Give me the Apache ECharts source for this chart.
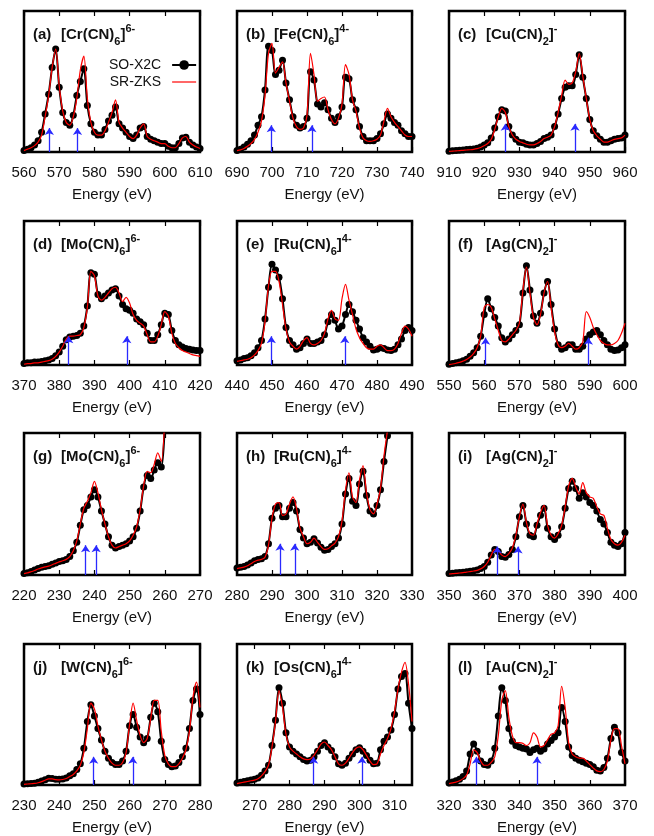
<!DOCTYPE html>
<html>
<head>
<meta charset="utf-8">
<title>X-ray absorption spectra</title>
<script src="https://cdn.jsdelivr.net/npm/echarts@6/dist/echarts.min.js"></script>
<style>
  html, body { margin: 0; padding: 0; background: #fff; }
  #chart { width: 654px; height: 836px; }
</style>
</head>
<body>
<div id="chart"></div>
<script>
// energies (eV) and intensities (% of panel height)
const aE = [560,561,562,563,564,565,566,567,568,569,570,571,572,573,574,575,576,577,578,579,580,581,582,583,584,585,586,587,588,589,590,591,592,593,594,595,596,597,598,599,600,601,602,603,604,605,606,607,608,609,610]
const aX2C = [1,2,3,5,8,14,27,41,60,73,46,28,21,19,26,40,50,59,33,20,14,12,12,16,22,26,32,20,17,14,11,9.5,12,17,18,11,9,8,7,6,6,4,3,3,6,10,10.5,7,5,3.5,2.5]
const aZKS = [1,2,3,4.5,7,12,25,40,60,73,47,29,21,19,25,38,58,68,38,21,14,12,12,15,21,28,37,21,17,14,11,9.5,12,17,20,11,9,8,7,6,6,4,3,3,6,10,11,7,5,3.5,2.5]
const aArrows = [567.2, 575.2]
const aTicks = [560, 570, 580, 590, 600, 610]

const bE = [690,691,692,693,694,695,696,697,698,699,700,701,702,703,704,705,706,707,708,709,710,711,712,713,714,715,716,717,718,719,720,721,722,723,724,725,726,727,728,729,730,731,732,733,734,735,736,737,738,739,740]
const bX2C = [1,2,3.5,5.5,8,12,19,25,44,75,72,55,58,65,49,37,25,19,17,18,24,57,51,34,32,35,30,24,21,25,32,53,52,37,30,18,11,8,8,8,9.5,13,20,27,24,21,19,15,13,11,11]
const bZKS = [1,1.5,2.5,4,6,9,14,22,40,70,77,56,60,64,49,36,24,18,16,17,26,70,55,36,38,39,30,23,20,24,34,62,55,37,29,17,10,8,7.5,8,9,12,22,31,25,21,18,15,12,11,11]
const bArrows = [699.8, 711.4]
const bTicks = [690, 700, 710, 720, 730, 740]

const cE = [910,911,912,913,914,915,916,917,918,919,920,921,922,923,924,925,926,927,928,929,930,931,932,933,934,935,936,937,938,939,940,941,942,943,944,945,946,947,948,949,950,951,952,953,954,955,956,957,958,959,960]
const cX2C = [0.5,0.8,1,1.2,1.5,1.7,2,2.2,2.7,3.5,5,6.5,10,17,25,30,29,18,12,9,7,6.5,5.5,5,5,6,7.5,9.5,10.5,12,18,27,38,46,47,47,55,69,53,38,23,15,11.5,9,7,7,8,9,9.5,10,12]
const cZKS = [0.4,0.6,0.8,1,1.2,1.4,1.6,1.9,2.4,3.2,4.5,6,9,16,25,31,28,18,12,9,7.5,6.5,5.5,5,5,6,7.5,9.5,10.5,12,18,28,40,51,48,49,57,70,54,38,23,15,11.5,9,7,7,8,9,9.5,10,12]
const cArrows = [926, 945.8]
const cTicks = [910, 920, 930, 940, 950, 960]

const dE = [370,371,372,373,374,375,376,377,378,379,380,381,382,383,384,385,386,387,388,389,390,391,392,393,394,395,396,397,398,399,400,401,402,403,404,405,406,407,408,409,410,411,412,413,414,415,416,417,418,419,420]
const dX2C = [1,1.5,1.5,2,2,2.5,3,3.5,4.5,6.5,9,13,17.5,19.5,20,20.5,22,27,41,64,63,49,46,48,50,52,53,48,42,39,38,36,32,30,28,22,17,17,21,28,36,35,24,17,14,12.5,11.5,11,10.5,10,10]
const dZKS = [0.5,1,1,1.5,1.5,2,2.5,3,4,6,9,13,18,20,20,20.5,21,26,40,65,62,48,45,47,50,53,54,50,44,47,43,35,31,29,27,21,16,16,20,28,37,34,22,15,12,10,9,8,7,6.5,6]
const dArrows = [382.7, 399.2]
const dTicks = [370, 380, 390, 400, 410, 420]

const eE = [440,441,442,443,444,445,446,447,448,449,450,451,452,453,454,455,456,457,458,459,460,461,462,463,464,465,466,467,468,469,470,471,472,473,474,475,476,477,478,479,480,481,482,483,484,485,486,487,488,489,490]
const eX2C = [3,3.5,4.5,5,6.5,8.5,12,17,32,54,70,66,61,46,26,17,14,11,12,15,18,15,15,16,17,21,30,35,31,25,27,35,42,37,31,25,19,16,13,10.5,11,12,11.5,10.5,10,11,14,18,24,26,24]
const eZKS = [2.5,3,3.5,4,5,7,10,15,30,55,65,65,58,42,25,16,13,11,13,17,19,15,14,15,17,22,32,38,32,31,46,56,45,35,25,19,15,12,11,11,13,14,12,10,10,11,15,22,27,25,20]
const eArrows = [449.8, 470.8]
const eTicks = [440, 450, 460, 470, 480, 490]

const fE = [550,551,552,553,554,555,556,557,558,559,560,561,562,563,564,565,566,567,568,569,570,571,572,573,574,575,576,577,578,579,580,581,582,583,584,585,586,587,588,589,590,591,592,593,594,595,596,597,598,599,600]
const fX2C = [0.5,1,1.5,2,3,4,6,8.5,12,20,35,46,39,33,27,19,16,18,21,24,28,50,69,52,34,29,36,50,58,42,25,14,11,12,14,14,11,11,13,18,21,23,24,21,17,14,11,10,10.5,12,14]
const fZKS = [0.3,0.7,1.2,1.8,2.7,3.8,5.5,8,12,20,40,42,40,32,24,17,16,18,21,24,29,52,68,50,33,28,35,50,58,40,23,14,12,13,15,13,11,12,16,37,33,26,21,17,15,14,14,15,17,22,29]
const fArrows = [560.4, 589.6]
const fTicks = [550, 560, 570, 580, 590, 600]

const gE = [220,221,222,223,224,225,226,227,228,229,230,231,232,233,234,235,236,237,238,239,240,241,242,243,244,245,246,247,248,249,250,251,252,253,254,255,256,257,258,259,260]
const gX2C = [1,1.5,2.5,3.5,4.5,5.5,6,6.5,7.5,8.5,9.5,10,11,13,17,23,35,46,49,55,60,55,45,36,27,21,19,20,21,22,24,27,33,45,62,70,68,74,79,76,106]
const gZKS = [1,1.5,2.3,3.2,4.2,5,5.7,6.3,7.2,8.2,9.2,10,11,13,17,24,36,47,52,58,66,58,46,36,27,21,19,20,21,22,24,28,34,46,63,73,72,78,86,80,112]
const gArrows = [237.5, 240.5]
const gTicks = [220, 230, 240, 250, 260, 270]

const hE = [280,281,282,283,284,285,286,287,288,289,290,291,292,293,294,295,296,297,298,299,300,301,302,303,304,305,306,307,308,309,310,311,312,313,314,315,316,317,318,319,320,321,322,323,324]
const hX2C = [5,5.5,6,7,8.5,10,11,11.5,13,22,40,47,49,41,41,47,51,45,32,26,22,23,25.5,22.5,19.5,17.5,18,20,22,26,36,57,68,52,49,64,73,56,45,43,49,60,80,98,115]
const hZKS = [4.5,5,5.5,6.5,8,9.5,10.5,11,12.5,21,40,50,51,42,43,50,55,47,33,27,22,23,26,23,20,18,18.5,20.5,22.5,27,38,60,72,55,51,67,77,58,46,43,50,61,84,102,120]
const hArrows = [292.3, 296.5]
const hTicks = [280, 290, 300, 310, 320, 330]

const iE = [350,351,352,353,354,355,356,357,358,359,360,361,362,363,364,365,366,367,368,369,370,371,372,373,374,375,376,377,378,379,380,381,382,383,384,385,386,387,388,389,390,391,392,393,394,395,396,397,398,399,400]
const iX2C = [1,1.2,1.5,1.8,2,2.3,2.7,3,3.5,4.5,6,9,14,18,16.5,13,12.5,14.5,18,27,41,49,36,28,27,35,42,47,33,27,25,28,34,47,61,66,61,54,58,55,51,49,45,39,36,30,23,21,20,22,30]
const iZKS = [0.7,0.9,1.1,1.4,1.7,2,2.4,2.8,3.3,4.3,6,9,14,18,17,14,13,15,19,28,41,50,37,29,28,36,44,49,35,28,26,29,35,48,63,68,62,57,65,58,55,54,48,43,42,33,25,22,21,23,28]
const iArrows = [363.7, 369.6]
const iTicks = [350, 360, 370, 380, 390, 400]

const jE = [230,231,232,233,234,235,236,237,238,239,240,241,242,243,244,245,246,247,248,249,250,251,252,253,254,255,256,257,258,259,260,261,262,263,264,265,266,267,268,269,270,271,272,273,274,275,276,277,278,279,280]
const jX2C = [0.7,0.9,1.1,1.3,2,2.8,3.8,4.7,4.6,4.1,4,4.2,5,6.5,8,11,15,26,45,57,49,40,32,24,19,16,14.5,14.5,17,24,42,50,41,34,30,33,48,58,52,31,18,14.5,13,13.5,16,20,26,40,60,68,50]
const jZKS = [0.5,0.7,0.9,1.1,1.6,2.4,3.4,4.3,4.3,3.8,3.6,3.9,4.6,6,7.5,10,14,23,40,58,54,42,32,24,19,15.5,14,14,16,23,43,58,46,35,30,33,47,60,60,38,21,15,13,13,15,19,25,38,62,73,55]
const jArrows = [249.8, 260.9]
const jTicks = [230, 240, 250, 260, 270, 280]

const kE = [265,266,267,268,269,270,271,272,273,274,275,276,277,278,279,280,281,282,283,284,285,286,287,288,289,290,291,292,293,294,295,296,297,298,299,300,301,302,303,304,305,306,307,308,309,310,311,312,313,314,315]
const kX2C = [1.5,2,2.5,3,3.5,4,5,7,10,14,28,46,69,58,37,27,24,22,20,18,17,17.5,20,24,28,30,27,24.5,20,15,14,15.5,19,22,25,26.5,24,21,17.5,15,15.5,25,31,34,39,50,68,77,79,58,40]
const kZKS = [1,1.5,2,2.5,3,3.5,4.5,6.5,9.5,14,27,45,67,55,36,27,24,22,20,18.5,18,18.5,21,25,29,30.5,28,25,20,15,14,15.5,19,23,26,27,25,21,17,14.5,15,22,28,33,40,52,68,80,87,72,45]
const kArrows = [286.9, 300.7]
const kTicks = [270, 280, 290, 300, 310]

const lE = [320,321,322,323,324,325,326,327,328,329,330,331,332,333,334,335,336,337,338,339,340,341,342,343,344,345,346,347,348,349,350,351,352,353,354,355,356,357,358,359,360,361,362,363,364,365,366,367,368,369,370]
const lX2C = [1.5,2.2,3,4,6,10,22,29,24,17,14.5,14,17,26,49,69,60,40,31,28,27,26,25.5,23,25,26,24,25.5,29,31.5,34,37,55,45,27,21,19,17.5,16.5,15.5,14.5,13,10.5,10,12.5,19,33,41,37,23,17]
const lZKS = [1,1.5,2,3,4.5,7,15,25,23,17,14,14,16,20,35,60,67,48,35,30,30,29.5,28,30,37,34,27,28,32,36,37,42,70,55,30,22,20,19,19,17,14.5,12,10,9.5,11,17,32,40,40,28,15]
const lArrows = [327.8, 345]
const lTicks = [320, 330, 340, 350, 360, 370]

const FONT = '"Liberation Sans", Arial, Helvetica, sans-serif'

const panels = [
  { label: '(a)', metal: 'Cr', n: '6', charge: '6-', range: [560, 610], ticks: aTicks, e: aE, x2c: aX2C, zks: aZKS, arrows: aArrows, arrowTop: 17 },
  { label: '(b)', metal: 'Fe', n: '6', charge: '4-', range: [690, 740], ticks: bTicks, e: bE, x2c: bX2C, zks: bZKS, arrows: bArrows, arrowTop: 19 },
  { label: '(c)', metal: 'Cu', n: '2', charge: '-', range: [910, 960], ticks: cTicks, e: cE, x2c: cX2C, zks: cZKS, arrows: cArrows, arrowTop: 20 },
  { label: '(d)', metal: 'Mo', n: '6', charge: '6-', range: [370, 420], ticks: dTicks, e: dE, x2c: dX2C, zks: dZKS, arrows: dArrows, arrowTop: 20 },
  { label: '(e)', metal: 'Ru', n: '6', charge: '4-', range: [440, 490], ticks: eTicks, e: eE, x2c: eX2C, zks: eZKS, arrows: eArrows, arrowTop: 20 },
  { label: '(f)', metal: 'Ag', n: '2', charge: '-', range: [550, 600], ticks: fTicks, e: fE, x2c: fX2C, zks: fZKS, arrows: fArrows, arrowTop: 19 },
  { label: '(g)', metal: 'Mo', n: '6', charge: '6-', range: [220, 270], ticks: gTicks, e: gE, x2c: gX2C, zks: gZKS, arrows: gArrows, arrowTop: 21 },
  { label: '(h)', metal: 'Ru', n: '6', charge: '4-', range: [280, 330], ticks: hTicks, e: hE, x2c: hX2C, zks: hZKS, arrows: hArrows, arrowTop: 22 },
  { label: '(i)', metal: 'Ag', n: '2', charge: '-', range: [350, 400], ticks: iTicks, e: iE, x2c: iX2C, zks: iZKS, arrows: iArrows, arrowTop: 20 },
  { label: '(j)', metal: 'W', n: '6', charge: '6-', range: [230, 280], ticks: jTicks, e: jE, x2c: jX2C, zks: jZKS, arrows: jArrows, arrowTop: 20 },
  { label: '(k)', metal: 'Os', n: '6', charge: '4-', range: [265, 315], ticks: kTicks, e: kE, x2c: kX2C, zks: kZKS, arrows: kArrows, arrowTop: 20 },
  { label: '(l)', metal: 'Au', n: '2', charge: '-', range: [320, 370], ticks: lTicks, e: lE, x2c: lX2C, zks: lZKS, arrows: lArrows, arrowTop: 20 },
]

// panel boxes in pixels
const colLeft = [24, 237, 449]
const colWidth = [176, 175, 176]
const rowTop = [11, 221, 433, 644]
const rowHeight = [141, 144, 142, 143]

const chart = echarts.init(document.getElementById('chart'), null, { renderer: 'canvas' })

const grids = []
const xAxes = []
const yAxes = []
const titles = []
const series = []

panels.forEach((p, i) => {
  const row = Math.floor(i / 3)
  const col = i % 3
  const left = colLeft[col]
  const top = rowTop[row]

  grids.push({
    left: left,
    top: top,
    width: colWidth[col],
    height: rowHeight[row],
    show: true,
    borderColor: '#000',
    borderWidth: 2.5,
    backgroundColor: 'transparent',
  })

  // bottom axis with labels
  xAxes.push({
    type: 'value',
    gridIndex: i,
    position: 'bottom',
    min: p.range[0],
    max: p.range[1],
    axisLine: { show: false },
    axisTick: {
      inside: true,
      length: 5,
      customValues: p.ticks,
      lineStyle: { color: '#000', width: 1.2 },
    },
    axisLabel: {
      customValues: p.ticks,
      fontSize: 15,
      color: '#111',
      fontFamily: FONT,
      margin: 13,
    },
    splitLine: { show: false },
    name: 'Energy (eV)',
    nameLocation: 'middle',
    nameGap: 35,
    nameTextStyle: { fontSize: 15, color: '#111', fontFamily: FONT },
  })
  // mirrored ticks on top
  xAxes.push({
    type: 'value',
    gridIndex: i,
    position: 'top',
    min: p.range[0],
    max: p.range[1],
    axisLine: { show: false },
    axisTick: {
      inside: true,
      length: 5,
      customValues: p.ticks,
      lineStyle: { color: '#000', width: 1.2 },
    },
    axisLabel: { show: false },
    splitLine: { show: false },
  })

  yAxes.push({
    type: 'value',
    gridIndex: i,
    min: 0,
    max: 100,
    show: false,
  })

  titles.push({
    text: `{l|${p.label}}{b|[${p.metal}(CN)}{s|${p.n}}{b|]}{p|${p.charge}}`,
    left: left + 9,
    top: top + 12,
    padding: 0,
    textStyle: {
      fontFamily: FONT,
      rich: {
        l: { fontSize: 15, fontWeight: 'bold', color: '#111', width: 28, lineHeight: 24, fontFamily: FONT },
        b: { fontSize: 15, fontWeight: 'bold', color: '#111', lineHeight: 24, fontFamily: FONT },
        s: { fontSize: 11, fontWeight: 'bold', color: '#111', lineHeight: 10, verticalAlign: 'bottom', fontFamily: FONT },
        p: { fontSize: 11, fontWeight: 'bold', color: '#111', lineHeight: 14, verticalAlign: 'top', fontFamily: FONT },
      },
    },
  })

  series.push({
    name: 'SO-X2C',
    type: 'line',
    xAxisIndex: 2 * i,
    yAxisIndex: i,
    data: p.e.map((e, k) => [e, p.x2c[k]]),
    smooth: 0.3,
    symbol: 'circle',
    symbolSize: 7,
    showAllSymbol: true,
    lineStyle: { color: '#000', width: 2 },
    itemStyle: { color: '#000' },
    z: 2,
    markLine: {
      silent: true,
      symbol: ['none', 'arrow'],
      symbolSize: 7,
      label: { show: false },
      lineStyle: { color: '#2a2aff', width: 1.3, type: 'solid' },
      data: p.arrows.map((x) => [{ coord: [x, 0] }, { coord: [x, p.arrowTop] }]),
    },
  })
  series.push({
    name: 'SR-ZKS',
    type: 'line',
    xAxisIndex: 2 * i,
    yAxisIndex: i,
    data: p.e.map((e, k) => [e, p.zks[k]]),
    smooth: 0.3,
    symbol: 'none',
    lineStyle: { color: '#ff0000', width: 1.2 },
    itemStyle: { color: '#ff0000' },
    z: 3,
  })
})

const option = {
  animation: false,
  backgroundColor: '#fff',
  title: titles,
  legend: {
    data: [
      { name: 'SO-X2C' },
      { name: 'SR-ZKS', icon: 'path://M0,0 L32,0 L32,1.6 L0,1.6 Z' },
    ],
    orient: 'vertical',
    left: 104,
    top: 53,
    align: 'right',
    itemGap: 3,
    itemWidth: 24,
    itemHeight: 12,
    selectedMode: false,
    textStyle: { fontSize: 14, color: '#111', fontFamily: FONT, padding: [0, 6, 0, 0] },
  },
  grid: grids,
  xAxis: xAxes,
  yAxis: yAxes,
  series: series,
}

chart.setOption(option)

window.addEventListener('resize', () => {
  chart.resize()
})
</script>
</body>
</html>
